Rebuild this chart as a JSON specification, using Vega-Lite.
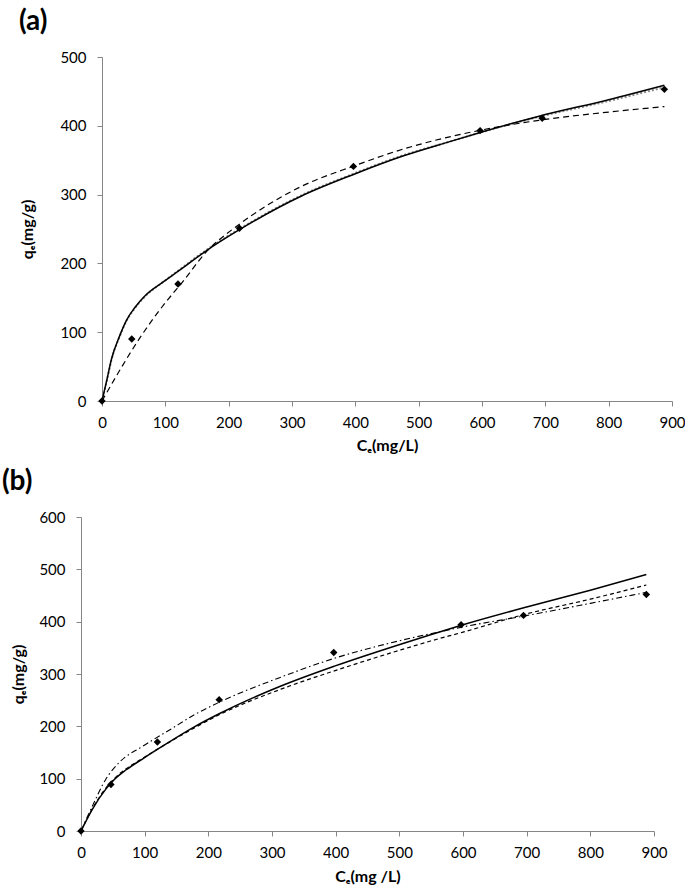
{
  "$schema": "https://vega.github.io/schema/vega-lite/v6.json",
  "background": "white",
  "padding": {"left": 0, "top": 8, "right": 0, "bottom": 4},
  "config": {
    "view": {"stroke": null},
    "font": "Lato",
    "axis": {"grid": false, "domainColor": "#868686", "tickColor": "#868686", "tickSize": 5, "labelFont": "Lato", "labelFontSize": 15, "labelColor": "#000", "titleFont": "Lato", "titleFontSize": 16, "titleFontWeight": "bold", "titleColor": "#000"},
    "axisY": {"labelPadding": 11},
    "axisX": {"labelPadding": 9, "titlePadding": 7, "labelFlush": false},
    "title": {"font": "Lato", "fontSize": 28, "fontWeight": "bold", "color": "#000", "anchor": "start", "frame": "bounds"}
  },
  "datasets": {
    "pa": [
      {"x": 0, "y": 0}, {"x": 47, "y": 90}, {"x": 120, "y": 170}, {"x": 217, "y": 251},
      {"x": 397, "y": 341}, {"x": 597, "y": 393}, {"x": 695, "y": 411}, {"x": 888, "y": 453}
    ],
    "ca": [
      {"m": "solid", "x": 0, "y": 0}, {"m": "solid", "x": 8, "y": 32}, {"m": "solid", "x": 15, "y": 61}, {"m": "solid", "x": 28, "y": 95},
      {"m": "solid", "x": 39, "y": 118}, {"m": "solid", "x": 52, "y": 136}, {"m": "solid", "x": 68, "y": 153}, {"m": "solid", "x": 95, "y": 172},
      {"m": "solid", "x": 121, "y": 189}, {"m": "solid", "x": 164, "y": 218}, {"m": "solid", "x": 217, "y": 249}, {"m": "solid", "x": 315, "y": 298},
      {"m": "solid", "x": 399, "y": 330}, {"m": "solid", "x": 475, "y": 356}, {"m": "solid", "x": 549, "y": 377}, {"m": "solid", "x": 600, "y": 391},
      {"m": "solid", "x": 690, "y": 414}, {"m": "solid", "x": 800, "y": 438}, {"m": "solid", "x": 888, "y": 459},
      {"m": "dotted", "x": 0, "y": 0}, {"m": "dotted", "x": 8, "y": 31}, {"m": "dotted", "x": 15, "y": 60}, {"m": "dotted", "x": 28, "y": 94},
      {"m": "dotted", "x": 39, "y": 117}, {"m": "dotted", "x": 52, "y": 135}, {"m": "dotted", "x": 68, "y": 152}, {"m": "dotted", "x": 95, "y": 172},
      {"m": "dotted", "x": 121, "y": 190}, {"m": "dotted", "x": 164, "y": 219}, {"m": "dotted", "x": 217, "y": 250}, {"m": "dotted", "x": 315, "y": 299},
      {"m": "dotted", "x": 399, "y": 331}, {"m": "dotted", "x": 475, "y": 357}, {"m": "dotted", "x": 549, "y": 377}, {"m": "dotted", "x": 600, "y": 391},
      {"m": "dotted", "x": 690, "y": 413}, {"m": "dotted", "x": 800, "y": 436}, {"m": "dotted", "x": 888, "y": 456},
      {"m": "dashed", "x": 0, "y": 0}, {"m": "dashed", "x": 25, "y": 40}, {"m": "dashed", "x": 60, "y": 92}, {"m": "dashed", "x": 95, "y": 137},
      {"m": "dashed", "x": 128, "y": 174}, {"m": "dashed", "x": 164, "y": 216}, {"m": "dashed", "x": 217, "y": 257}, {"m": "dashed", "x": 260, "y": 284},
      {"m": "dashed", "x": 315, "y": 312}, {"m": "dashed", "x": 399, "y": 342}, {"m": "dashed", "x": 475, "y": 366}, {"m": "dashed", "x": 549, "y": 384},
      {"m": "dashed", "x": 600, "y": 394}, {"m": "dashed", "x": 690, "y": 408}, {"m": "dashed", "x": 800, "y": 420}, {"m": "dashed", "x": 888, "y": 428}
    ],
    "pb": [
      {"x": 0, "y": 0}, {"x": 47, "y": 89}, {"x": 120, "y": 170}, {"x": 217, "y": 251},
      {"x": 397, "y": 341}, {"x": 597, "y": 394}, {"x": 695, "y": 412}, {"x": 888, "y": 452}
    ],
    "cb": [
      {"m": "solid", "x": 0, "y": 0}, {"m": "solid", "x": 18, "y": 42}, {"m": "solid", "x": 39, "y": 80}, {"m": "solid", "x": 52, "y": 98},
      {"m": "solid", "x": 71, "y": 117}, {"m": "solid", "x": 97, "y": 138}, {"m": "solid", "x": 128, "y": 162}, {"m": "solid", "x": 178, "y": 199},
      {"m": "solid", "x": 217, "y": 224}, {"m": "solid", "x": 314, "y": 277}, {"m": "solid", "x": 398, "y": 315}, {"m": "solid", "x": 502, "y": 357},
      {"m": "solid", "x": 549, "y": 375}, {"m": "solid", "x": 600, "y": 394}, {"m": "solid", "x": 700, "y": 428}, {"m": "solid", "x": 800, "y": 460},
      {"m": "solid", "x": 888, "y": 490},
      {"m": "dashed", "x": 0, "y": 0}, {"m": "dashed", "x": 18, "y": 43}, {"m": "dashed", "x": 39, "y": 82}, {"m": "dashed", "x": 52, "y": 100},
      {"m": "dashed", "x": 71, "y": 119}, {"m": "dashed", "x": 97, "y": 139}, {"m": "dashed", "x": 128, "y": 162}, {"m": "dashed", "x": 178, "y": 197},
      {"m": "dashed", "x": 217, "y": 222}, {"m": "dashed", "x": 314, "y": 271}, {"m": "dashed", "x": 398, "y": 306}, {"m": "dashed", "x": 502, "y": 346},
      {"m": "dashed", "x": 549, "y": 363}, {"m": "dashed", "x": 600, "y": 380}, {"m": "dashed", "x": 697, "y": 414}, {"m": "dashed", "x": 800, "y": 443},
      {"m": "dashed", "x": 888, "y": 470},
      {"m": "dashdot", "x": 0, "y": 0}, {"m": "dashdot", "x": 18, "y": 48}, {"m": "dashdot", "x": 39, "y": 99}, {"m": "dashdot", "x": 60, "y": 131},
      {"m": "dashdot", "x": 97, "y": 162}, {"m": "dashdot", "x": 139, "y": 193}, {"m": "dashdot", "x": 178, "y": 222}, {"m": "dashdot", "x": 217, "y": 246},
      {"m": "dashdot", "x": 314, "y": 294}, {"m": "dashdot", "x": 398, "y": 330}, {"m": "dashdot", "x": 502, "y": 364}, {"m": "dashdot", "x": 549, "y": 377},
      {"m": "dashdot", "x": 600, "y": 390}, {"m": "dashdot", "x": 697, "y": 411}, {"m": "dashdot", "x": 800, "y": 435}, {"m": "dashdot", "x": 888, "y": 456}
    ]
  },
  "concat": [
    {
      "width": 1,
      "height": 1,
      "data": {"values": []},
      "mark": {"type": "point", "opacity": 0},
      "encoding": {}
    },
    {
      "title": {"text": "(a)", "dx": 17, "offset": 14},
      "width": 570,
      "height": 344,
      "layer": [
        {
          "data": {"name": "ca"},
          "transform": [{"filter": "datum.m === 'dotted'"}],
          "mark": {"type": "line", "interpolate": "monotone", "color": "#8a8a8a", "strokeWidth": 2, "strokeDash": [2, 2]},
          "encoding": {
            "x": {"field": "x", "type": "quantitative", "scale": {"domain": [0, 900], "nice": false}, "axis": {"values": [0, 100, 200, 300, 400, 500, 600, 700, 800, 900], "title": "Cₑ(mg/L)"}},
            "y": {"field": "y", "type": "quantitative", "scale": {"domain": [0, 500], "nice": false}, "axis": {"values": [0, 50, 100, 150, 200, 250, 300, 350, 400, 450, 500], "title": ["", "qₑ(mg/g)"], "titlePadding": 24}}
          }
        },
        {
          "data": {"name": "ca"},
          "transform": [{"filter": "datum.m === 'solid'"}],
          "mark": {"type": "line", "interpolate": "monotone", "color": "#000", "strokeWidth": 1.5},
          "encoding": {"x": {"field": "x", "type": "quantitative"}, "y": {"field": "y", "type": "quantitative"}}
        },
        {
          "data": {"name": "ca"},
          "transform": [{"filter": "datum.m === 'dashed'"}],
          "mark": {"type": "line", "interpolate": "monotone", "color": "#000", "strokeWidth": 1.2, "strokeDash": [6, 4]},
          "encoding": {"x": {"field": "x", "type": "quantitative"}, "y": {"field": "y", "type": "quantitative"}}
        },
        {
          "data": {"name": "pa"},
          "mark": {"type": "point", "shape": "diamond", "filled": true, "color": "#000", "size": 55, "opacity": 1},
          "encoding": {"x": {"field": "x", "type": "quantitative"}, "y": {"field": "y", "type": "quantitative"}}
        }
      ]
    },
    {
      "width": 1,
      "height": 1,
      "data": {"values": []},
      "mark": {"type": "point", "opacity": 0},
      "encoding": {}
    },
    {
      "title": {"text": "(b)", "dx": -9, "offset": 14},
      "width": 573,
      "height": 314,
      "layer": [
        {
          "data": {"name": "cb"},
          "transform": [{"filter": "datum.m === 'solid'"}],
          "mark": {"type": "line", "interpolate": "monotone", "color": "#000", "strokeWidth": 1.5},
          "encoding": {
            "x": {"field": "x", "type": "quantitative", "scale": {"domain": [0, 900], "nice": false}, "axis": {"values": [0, 100, 200, 300, 400, 500, 600, 700, 800, 900], "title": "Cₑ(mg /L)", "titlePadding": 8}},
            "y": {"field": "y", "type": "quantitative", "scale": {"domain": [0, 600], "nice": false}, "axis": {"values": [0, 100, 200, 300, 400, 500, 600], "title": "qₑ(mg/g)", "titlePadding": 12}}
          }
        },
        {
          "data": {"name": "cb"},
          "transform": [{"filter": "datum.m === 'dashed'"}],
          "mark": {"type": "line", "interpolate": "monotone", "color": "#000", "strokeWidth": 1.2, "strokeDash": [4, 3]},
          "encoding": {"x": {"field": "x", "type": "quantitative"}, "y": {"field": "y", "type": "quantitative"}}
        },
        {
          "data": {"name": "cb"},
          "transform": [{"filter": "datum.m === 'dashdot'"}],
          "mark": {"type": "line", "interpolate": "monotone", "color": "#000", "strokeWidth": 1.1, "strokeDash": [6, 3, 1.5, 3]},
          "encoding": {"x": {"field": "x", "type": "quantitative"}, "y": {"field": "y", "type": "quantitative"}}
        },
        {
          "data": {"name": "pb"},
          "mark": {"type": "point", "shape": "diamond", "filled": true, "color": "#000", "size": 55, "opacity": 1},
          "encoding": {"x": {"field": "x", "type": "quantitative"}, "y": {"field": "y", "type": "quantitative"}}
        }
      ]
    }
  ],
  "columns": 2,
  "align": "none",
  "spacing": {"row": 15, "column": 0}
}
